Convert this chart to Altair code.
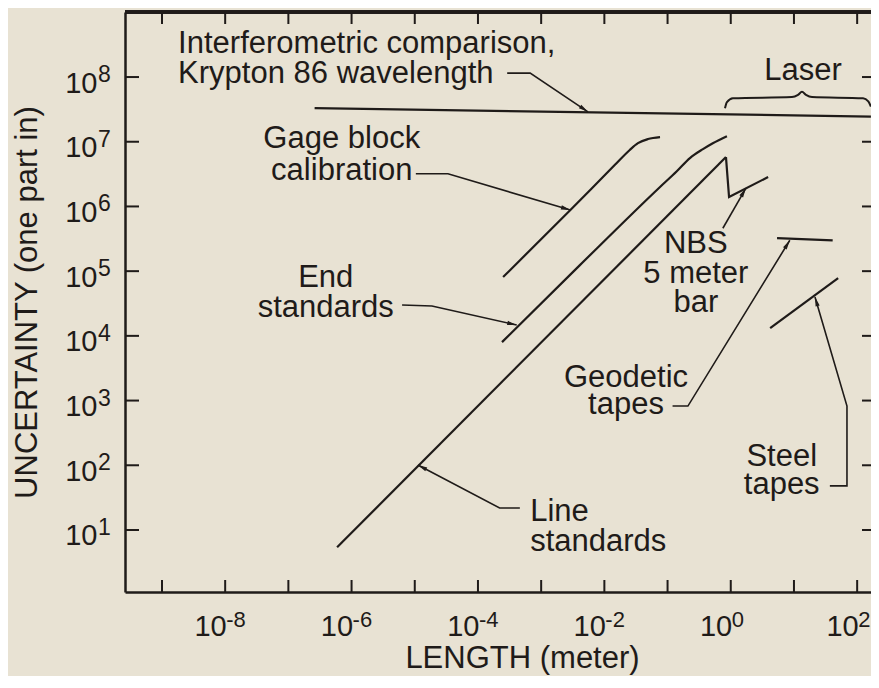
import math
import altair as alt
import pandas as pd

# ---------------- values ----------------
X_DOMAIN = [2.6e-10, 165.6]
Y_DOMAIN = [1.1, 1.012e9]

X_TICKS = [1e-9, 1e-8, 1e-7, 1e-6, 1e-5, 1e-4, 1e-3, 1e-2, 1e-1, 1e0, 1e1, 1e2]
X_LABEL_VALUES = [1e-8, 1e-6, 1e-4, 1e-2, 1e0, 1e2]
X_EXPONENTS = ["-8", "-6", "-4", "-2", "0", "2"]
Y_TICKS = [1e1, 1e2, 1e3, 1e4, 1e5, 1e6, 1e7, 1e8]
Y_EXPONENTS = ["1", "2", "3", "4", "5", "6", "7", "8"]
TICK_BASE = "10"

# smooth curves
GAGE_X = [2.5e-4, 2.9e-3, 1.47e-2, 2.5e-2, 3.4e-2, 4.9e-2, 7.6e-2]
GAGE_Y = [8.1e4, 8.8e5, 4.4e6, 7.4e6, 9.5e6, 1.1e7, 1.18e7]
END_X = [2.4e-4, 4.1e-3, 7.6e-2, 0.14, 0.226, 0.363, 0.52, 0.87]
END_Y = [8.0e3, 1.24e5, 2.0e6, 3.5e6, 5.6e6, 7.7e6, 9.5e6, 1.22e7]

# straight series
KRYPTON_X = [2.6e-7, 165]
KRYPTON_Y = [3.3e7, 2.45e7]
LINE_X = [5.9e-7, 0.84]
LINE_Y = [5.4, 5.8e6]
NBS_X = [0.84, 0.94, 3.9]
NBS_Y = [5.8e6, 1.4e6, 2.85e6]
GEODETIC_X = [5.4, 41]
GEODETIC_Y = [3.25e5, 3.0e5]
STEEL_X = [4.2, 50]
STEEL_Y = [1.32e4, 7.8e4]

# "Laser" brace
BRACE_X = [0.81, 0.87, 1.08, 9.3, 11.6, 13.4, 15.5, 19.3, 124, 150, 165]
BRACE_Y = [3.3e7, 4.1e7, 4.7e7, 4.9e7, 5.3e7, 5.9e7, 5.3e7, 4.9e7, 4.7e7, 4.2e7, 3.5e7]

# leader lines (last point = arrow tip)
LEADERS = {
    "krypton": ([2.9e-4, 6.7e-4, 5.5e-3], [1.15e8, 1.15e8, 2.9e7]),
    "gage": ([1.04e-5, 3.35e-5, 2.9e-3], [3.2e6, 3.2e6, 8.8e5]),
    "end": ([6.3e-6, 1.87e-5, 4.1e-4], [3.0e4, 2.9e4, 1.47e4]),
    "nbs": ([0.75, 1.74], [4.6e5, 1.92e6]),
    "geodetic": ([0.12, 0.21, 8.6], [822, 822, 3.0e5]),
    "steel": ([37, 69, 69, 21.5], [48, 48, 822, 4.0e4]),
    "line": ([4.6e-4, 2.2e-4, 1.12e-5], [21.8, 21.8, 101]),
}

# annotation labels: text, x, y (baseline of first line), align, line spacing
LABEL_TEXT = ["Interferometric comparison,\nKrypton 86 wavelength", "Laser",
              "Gage block\ncalibration", "End\nstandards", "NBS\n5 meter\nbar",
              "Geodetic\ntapes", "Steel\ntapes", "Line\nstandards"]
LABEL_X = [1.8e-9, 13.9, 7.0e-7, 3.9e-7, 0.28, 0.022, 6.4, 6.7e-4]
LABEL_Y = [2.35e8, 9.0e7, 8.0e6, 5.7e4, 1.9e5, 1.62e3, 97, 13.7]
LABEL_ALIGN = ["left", "center", "center", "center", "center", "center", "center", "left"]
LABEL_LINE_HEIGHT = [30, 30, 32, 30, 29.5, 27, 28, 30]

# ---------------- styling ----------------
W, H = 746, 580
INK = "#1f1b19"
BG = "#e8e2d3"
FONT = "Liberation Sans"

x_axis = alt.Axis(values=X_LABEL_VALUES, labelExpr=f"'{TICK_BASE}'",
                  ticks=False, tickSize=0, grid=False, domain=True, domainWidth=2.5,
                  domainColor=INK, labelFont=FONT, labelFontSize=29, labelColor=INK,
                  labelPadding=43, labelBaseline="alphabetic", labelAlign="right",
                  labelOffset=1, labelFlush=False, labelOverlap=False,
                  title="LENGTH (meter)", titleFont=FONT, titleFontSize=31,
                  titleFontWeight="normal", titleColor=INK, titleX=397, titleY=75,
                  titleBaseline="alphabetic", titleAlign="center")
y_axis = alt.Axis(values=Y_TICKS, labelExpr=f"'{TICK_BASE}'",
                  ticks=False, tickSize=0, grid=False, domain=True, domainWidth=2.5,
                  domainColor=INK, labelFont=FONT, labelFontSize=29, labelColor=INK,
                  labelPadding=28, labelBaseline="alphabetic", labelOffset=15,
                  labelFlush=False, labelOverlap=False,
                  title="UNCERTAINTY (one part in)", titleFont=FONT, titleFontSize=31,
                  titleFontWeight="normal", titleColor=INK, titleX=-89, titleY=290,
                  titleBaseline="alphabetic", titleAlign="center", titleAngle=270)

xs = alt.Scale(type="log", domain=X_DOMAIN, nice=False)
ys = alt.Scale(type="log", domain=Y_DOMAIN, nice=False)


def X(field="x"):
    return alt.X(f"{field}:Q", scale=xs, axis=x_axis)


def Y(field="y"):
    return alt.Y(f"{field}:Q", scale=ys, axis=y_axis)


def frame(series):
    rows = []
    for name, (xv, yv) in series.items():
        for i, (a, b) in enumerate(zip(xv, yv)):
            rows.append({"s": name, "i": i, "x": a, "y": b})
    return pd.DataFrame(rows)


curves = frame({"gage": (GAGE_X, GAGE_Y), "end": (END_X, END_Y)})
straight = frame({"krypton": (KRYPTON_X, KRYPTON_Y), "line": (LINE_X, LINE_Y),
                  "nbs": (NBS_X, NBS_Y), "geodetic": (GEODETIC_X, GEODETIC_Y),
                  "steel": (STEEL_X, STEEL_Y)})
brace = frame({"brace": (BRACE_X, BRACE_Y)})
leaders = frame(LEADERS)

lx0, lx1 = math.log10(X_DOMAIN[0]), math.log10(X_DOMAIN[1])
ly0, ly1 = math.log10(Y_DOMAIN[0]), math.log10(Y_DOMAIN[1])


def to_px(a, b):
    return ((math.log10(a) - lx0) / (lx1 - lx0) * W, (ly1 - math.log10(b)) / (ly1 - ly0) * H)


arrow_rows = []
for name, (xv, yv) in LEADERS.items():
    p0 = to_px(xv[-2], yv[-2])
    p1 = to_px(xv[-1], yv[-1])
    ang = math.degrees(math.atan2(p1[0] - p0[0], -(p1[1] - p0[1]))) % 360
    arrow_rows.append({"x": xv[-1], "y": yv[-1], "angle": ang})
arrows = pd.DataFrame(arrow_rows)

xt = pd.DataFrame({"x": X_TICKS})
yt = pd.DataFrame({"y": Y_TICKS})
xe = pd.DataFrame({"x": X_LABEL_VALUES, "e": X_EXPONENTS})
ye = pd.DataFrame({"y": Y_TICKS, "e": Y_EXPONENTS})

layers = [
    alt.Chart(xt).mark_rule(color=INK, strokeWidth=2).encode(
        x=X(), y=alt.value(0), y2=alt.value(12)),
    alt.Chart(xt).mark_rule(color=INK, strokeWidth=2).encode(
        x=X(), y=alt.value(H - 12), y2=alt.value(H)),
    alt.Chart(yt).mark_rule(color=INK, strokeWidth=2).encode(
        y=Y(), x=alt.value(0), x2=alt.value(14)),
    alt.Chart(yt).mark_rule(color=INK, strokeWidth=2).encode(
        y=Y(), x=alt.value(W - 9), x2=alt.value(W)),
    alt.Chart(xt).mark_rule(color=INK, strokeWidth=2.5).encode(
        x=alt.value(0), x2=alt.value(W), y=alt.value(0)),
    # exponents of the tick labels
    alt.Chart(xe).mark_text(font=FONT, fontSize=22, align="left", baseline="alphabetic",
                            color=INK, dx=1).encode(
        x=X(), y=alt.value(H + 35), text="e:N"),
    alt.Chart(ye).mark_text(font=FONT, fontSize=23, align="left", baseline="alphabetic",
                            color=INK, dy=5).encode(
        y=Y(), x=alt.value(-27), text="e:N"),
    alt.Chart(curves).mark_line(color=INK, strokeWidth=2.2, interpolate="monotone", clip=True).encode(
        x=X(), y=Y(), detail="s:N", order="i:Q"),
    alt.Chart(straight).mark_line(color=INK, strokeWidth=2.2, clip=True).encode(
        x=X(), y=Y(), detail="s:N", order="i:Q"),
    alt.Chart(brace).mark_line(color=INK, strokeWidth=2, interpolate="monotone").encode(
        x=X(), y=Y(), detail="s:N", order="i:Q"),
    alt.Chart(leaders).mark_line(color=INK, strokeWidth=1.6).encode(
        x=X(), y=Y(), detail="s:N", order="i:Q"),
    alt.Chart(arrows).mark_point(shape="M0,0L0.45,2L-0.45,2Z", filled=True, size=90,
                                 color=INK, opacity=1, strokeWidth=0).encode(
        x=X(), y=Y(), angle=alt.Angle("angle:Q", scale=None)),
]

for t, lx, ly, al, lh in zip(LABEL_TEXT, LABEL_X, LABEL_Y, LABEL_ALIGN, LABEL_LINE_HEIGHT):
    df = pd.DataFrame({"t": [t], "x": [lx], "y": [ly]})
    layers.append(
        alt.Chart(df).mark_text(font=FONT, fontSize=31, align=al, baseline="alphabetic",
                                color=INK, lineBreak="\n", lineHeight=lh).encode(
            x=X(), y=Y(), text="t:N"))

chart = alt.layer(*layers).properties(
    width=W, height=H,
    autosize=alt.AutoSizeParams(type="none"),
    padding={"left": 117, "top": 4, "right": 0, "bottom": 84},
    background=BG,
).configure_view(stroke=None)

chart.save("out.html", embed_options={"renderer": "svg", "actions": False})
